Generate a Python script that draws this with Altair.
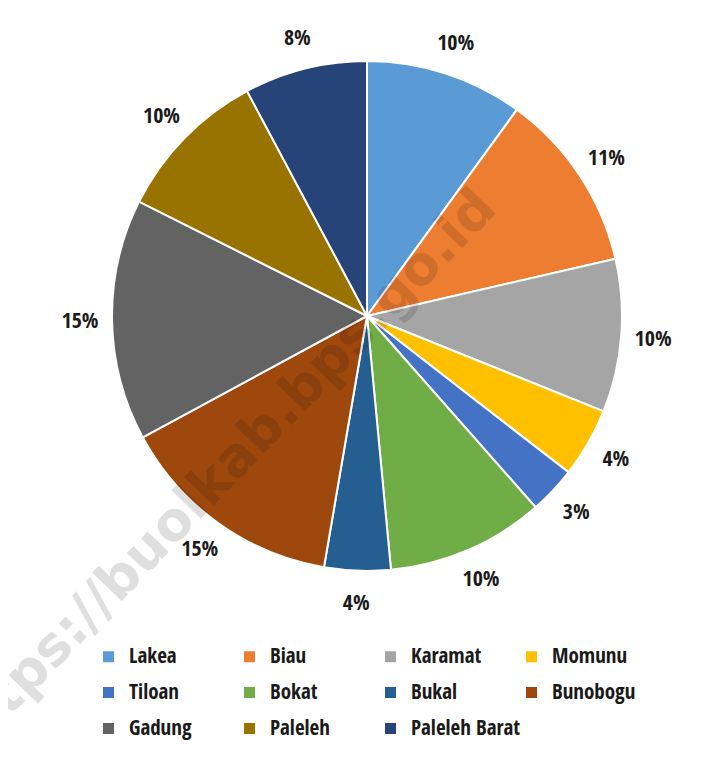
import altair as alt
import pandas as pd

categories = ["Lakea", "Biau", "Karamat", "Momunu", "Tiloan", "Bokat",
              "Bukal", "Bunobogu", "Gadung", "Paleleh", "Paleleh Barat"]
values = [10.0, 11.4, 9.7, 4.4, 3.0, 10.0, 4.2, 14.4, 15.3, 9.8, 7.8]
labels = ["10%", "11%", "10%", "4%", "3%", "10%", "4%", "15%", "15%", "10%", "8%"]
colors = ["#5B9BD5", "#ED7D31", "#A5A5A5", "#FFC000", "#4472C4", "#70AD47",
          "#255E91", "#9E480E", "#636363", "#997300", "#264478"]
watermark = ["https://buolkab.bps.go.id"]

FONT = "Open Sans Condensed"

df = pd.DataFrame({"cat": categories, "val": values, "lab": labels,
                   "idx": list(range(len(categories)))})

CX, CY = 359, 308

base = alt.Chart(df).encode(
    theta=alt.Theta("val:Q", stack=True),
    order=alt.Order("idx:Q"),
)

pie = base.mark_arc(outerRadius=255, stroke="white", strokeWidth=2).encode(
    x=alt.value(CX), y=alt.value(CY),
    color=alt.Color(
        "cat:N",
        sort=categories,
        scale=alt.Scale(domain=categories, range=colors),
        legend=alt.Legend(
            title=None, orient="none", legendX=90, legendY=638,
            direction="horizontal",
            columns=4, gridAlign="all", columnPadding=-4, rowPadding=14,
            symbolType="square", symbolSize=121, symbolStrokeWidth=0,
            labelFont=FONT, labelFontSize=21, labelFontWeight="bold",
            labelColor="#1a1a1a", symbolOffset=0, labelOffset=10,
        ),
    ),
)

text = base.mark_text(radius=287, font=FONT, fontSize=22, fontWeight="bold",
                      color="#1a1a1a", align="center", baseline="middle").encode(
    x=alt.value(CX), y=alt.value(CY),
    text="lab:N",
)

wm = alt.Chart(pd.DataFrame({"t": watermark})).mark_text(
    angle=314, fontSize=54, fontWeight="bold", font="DejaVu Sans",
    color="black", opacity=0.12, align="center", baseline="middle"
).encode(x=alt.value(212), y=alt.value(468), text="t:N")

chart = alt.layer(pie, text, wm).properties(
    width=700, height=735, padding=0,
    autosize=alt.AutoSizeParams(type="none"),
).configure(background="white").configure_view(stroke=None)

chart.save("out.html", embed_options={"renderer": "svg", "actions": False})
